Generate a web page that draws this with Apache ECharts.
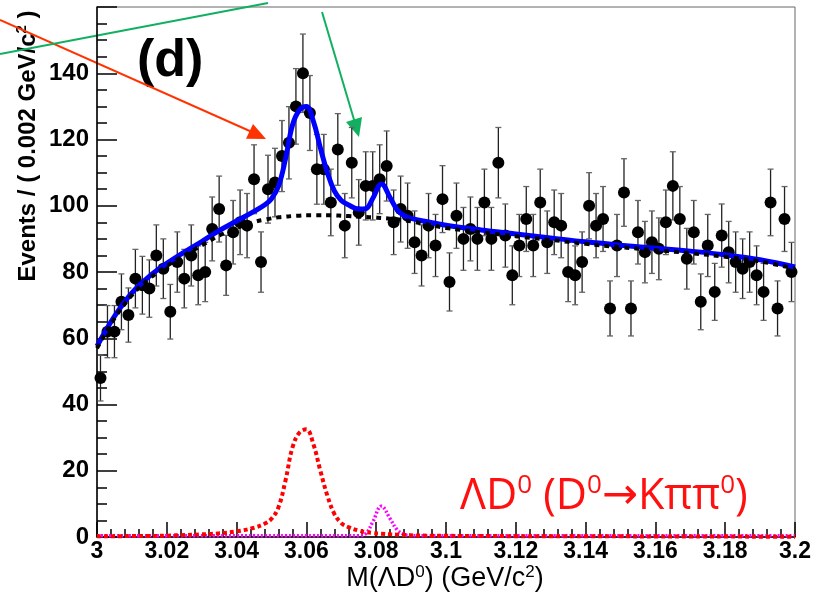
<!DOCTYPE html>
<html>
<head>
<meta charset="utf-8">
<script src="https://cdn.jsdelivr.net/npm/echarts@6/dist/echarts.min.js"></script>
<style>
  html, body { margin: 0; padding: 0; background: #fff; }
  #chart { width: 823px; height: 593px; }
</style>
</head>
<body>
<div id="chart"></div>
<script>
// histogram binning (GeV/c^2)
const binLow = 3.0;
const binWidth = 0.002;

// events per bin
const counts = [
  48, 62, 62, 71, 67, 78, 76, 75, 85, 81,
  68, 83, 78, 85, 79, 80, 93, 99, 82, 92,
  95, 94, 108, 83, 105, 107, 115, 119, 130, 140,
  128, 111, 111, 101, 117, 94, 113, 98, 106, 106,
  108, 112, 95, 99, 97, 89, 85, 94, 88, 102,
  77, 97, 90, 93, 90, 101, 90, 113, 91, 79,
  88, 96, 88, 101, 89, 95, 94, 80, 79, 83,
  100, 94, 96, 69, 88, 104, 69, 92, 86, 89,
  87, 95, 106, 96, 84, 92, 71, 88, 74, 91,
  86, 83, 81, 83, 79, 74, 101, 69, 96, 80
];

// fit curves sampled at these masses
const curveX = [
  3.000, 3.005, 3.010, 3.015, 3.020, 3.025, 3.030, 3.035, 3.040, 3.045,
  3.048, 3.050, 3.052, 3.054, 3.056, 3.058, 3.060, 3.062, 3.064, 3.066,
  3.068, 3.070, 3.072, 3.075, 3.077, 3.079, 3.0815, 3.084, 3.086, 3.088,
  3.090, 3.095, 3.100, 3.110, 3.120, 3.130, 3.140, 3.150, 3.160, 3.170,
  3.180, 3.190, 3.200
];
const totalFit = [
  57.6, 66.6, 73.7, 78.7, 82.6, 86.0, 89.2, 92.5, 95.4, 98.3,
  100.2, 102.1, 105.9, 114.1, 124.3, 128.9, 130.0, 125.5, 117.5, 110.0,
  104.5, 101.6, 100.3, 99.0, 99.1, 102.2, 106.6, 102.4, 98.8, 97.0,
  96.2, 95.1, 94.1, 92.7, 91.5, 90.3, 89.1, 88.1, 87.2, 86.3,
  85.2, 83.7, 81.5
];
const background = [
  57.0, 66.0, 73.0, 78.0, 81.8, 85.0, 88.0, 91.0, 93.3, 95.1,
  95.8, 96.2, 96.5, 96.7, 96.9, 97.0, 97.1, 97.1, 97.1, 97.1,
  97.1, 97.0, 96.9, 96.7, 96.6, 96.5, 96.3, 96.1, 95.9, 95.6,
  95.3, 94.3, 93.3, 92.0, 90.8, 89.7, 88.5, 87.5, 86.6, 85.7,
  84.6, 83.2, 81.0
];
const signalA = [
  0.2, 0.2, 0.3, 0.3, 0.4, 0.6, 0.8, 1.1, 1.7, 2.8,
  4.0, 5.5, 9.0, 17.0, 27.0, 31.5, 32.5, 28.0, 20.0, 12.5,
  7.0, 4.2, 3.0, 1.9, 1.5, 1.2, 1.0, 0.8, 0.7, 0.6,
  0.5, 0.4, 0.35, 0.3, 0.25, 0.2, 0.2, 0.2, 0.15, 0.15,
  0.15, 0.1, 0.1
];
const signalB = [
  0.4, 0.4, 0.4, 0.4, 0.4, 0.4, 0.4, 0.4, 0.4, 0.4,
  0.4, 0.4, 0.4, 0.4, 0.4, 0.4, 0.4, 0.4, 0.4, 0.4,
  0.4, 0.4, 0.4, 0.4, 1.0, 4.5, 9.3, 5.5, 2.2, 0.8,
  0.4, 0.4, 0.4, 0.4, 0.4, 0.4, 0.4, 0.4, 0.4, 0.4,
  0.4, 0.4, 0.4
];

const labelFont = "'Liberation Sans', Arial, sans-serif";
const redFont = "'Open Sans', 'Noto Sans', sans-serif";

const points = counts.map((c, i) => [binLow + binWidth * (i + 0.5), c, Math.sqrt(c)]);
const pairs = (ys) => curveX.map((x, i) => [x, ys[i]]);

const chart = echarts.init(document.getElementById("chart"));

const option = {
  animation: false,
  backgroundColor: "#fff",
  grid: {
    left: 97,
    right: 28,
    top: 7,
    bottom: 56,
    show: true,
    borderColor: "#666",
    borderWidth: 1,
  },
  xAxis: {
    type: "value",
    min: 3.0,
    max: 3.2,
    interval: 0.02,
    axisLine: { lineStyle: { color: "#000", width: 1.5 } },
    axisTick: { inside: true, length: 15, lineStyle: { color: "#000", width: 1.5 } },
    minorTick: { show: true, splitNumber: 5, length: 8, lineStyle: { color: "#000", width: 1.5 } },
    splitLine: { show: false },
    axisLabel: {
      color: "#000",
      fontSize: 23,
      fontWeight: "bold",
      fontFamily: labelFont,
      margin: 3,
      formatter: (v) => String(+v.toFixed(2)),
    },
  },
  yAxis: {
    type: "value",
    min: 0,
    max: 160,
    interval: 20,
    axisLine: { show: true, lineStyle: { color: "#000", width: 1.5 } },
    axisTick: { show: true, inside: true, length: 20, lineStyle: { color: "#000", width: 1.5 } },
    minorTick: { show: true, splitNumber: 4, length: 10, lineStyle: { color: "#000", width: 1.5 } },
    splitLine: { show: false },
    axisLabel: {
      color: "#000",
      fontSize: 24,
      fontWeight: "bold",
      fontFamily: labelFont,
      margin: 8,
      formatter: (v) => (v === 160 ? "" : String(v)),
    },
  },
  series: [
    {
      type: "custom",
      z: 2,
      data: points,
      encode: { x: 0, y: 1 },
      renderItem: function (params, api) {
        const x = api.value(0);
        const y = api.value(1);
        const e = api.value(2);
        const top = api.coord([x, y + e]);
        const bot = api.coord([x, y - e]);
        const cap = 3;
        return {
          type: "group",
          children: [
            { type: "line", shape: { x1: top[0], y1: top[1], x2: bot[0], y2: bot[1] }, style: { stroke: "#222", lineWidth: 1.3 } },
            { type: "line", shape: { x1: top[0] - cap, y1: top[1], x2: top[0] + cap, y2: top[1] }, style: { stroke: "#666", lineWidth: 1.3 } },
            { type: "line", shape: { x1: bot[0] - cap, y1: bot[1], x2: bot[0] + cap, y2: bot[1] }, style: { stroke: "#666", lineWidth: 1.3 } },
          ],
        };
      },
    },
    {
      type: "scatter",
      z: 3,
      data: points.map((p) => [p[0], p[1]]),
      symbol: "circle",
      symbolSize: 12,
      itemStyle: { color: "#000", opacity: 1 },
    },
    {
      type: "line",
      z: 4,
      data: pairs(signalB),
      smooth: 0.4,
      showSymbol: false,
      lineStyle: { color: "#ff00ff", width: 3.5, type: [2, 2] },
    },
    {
      type: "line",
      z: 4,
      data: pairs(signalA),
      smooth: 0.4,
      showSymbol: false,
      lineStyle: { color: "#ff0000", width: 4, type: [4, 3] },
    },
    {
      type: "line",
      z: 5,
      data: pairs(totalFit),
      smooth: 0.4,
      showSymbol: false,
      lineStyle: { color: "#0000ff", width: 5 },
    },
    {
      type: "line",
      z: 6,
      data: pairs(background),
      smooth: 0.4,
      showSymbol: false,
      lineStyle: { color: "#000", width: 4, type: [5, 5] },
    },
  ],
  graphic: [
    {
      type: "text",
      left: 137,
      top: 36,
      style: { text: "(d)", fontSize: 52, fontWeight: "bold", fontFamily: labelFont, fill: "#000" },
    },
    {
      type: "text",
      x: 28,
      y: 146,
      rotation: Math.PI / 2,
      style: {
        text: "{a|Events / ( 0.002 GeV/c}{s|2}{a| )}",
        align: "center",
        verticalAlign: "middle",
        rich: {
          a: { fontSize: 24, fontFamily: labelFont, fill: "#000", fontWeight: "bold" },
          s: { fontSize: 15, fontFamily: labelFont, fill: "#000", fontWeight: "bold", padding: [0, 0, 12, 0] },
        },
      },
    },
    {
      type: "text",
      x: 445,
      y: 579,
      style: {
        text: "{a|M(ΛD}{s|0}{a|) (GeV/c}{s|2}{a|)}",
        align: "center",
        verticalAlign: "middle",
        rich: {
          a: { fontSize: 27, fontFamily: labelFont, fill: "#000" },
          s: { fontSize: 17, fontFamily: labelFont, fill: "#000", padding: [0, 0, 13, 0] },
        },
      },
    },
    {
      type: "text",
      x: 460,
      y: 497,
      style: {
        text: "{a|ΛD}{s|0}{a| (D}{s|0}{r|→}{a|Kππ}{s|0}{a|)}",
        align: "left",
        verticalAlign: "middle",
        rich: {
          a: { fontSize: 43, fontFamily: redFont, fill: "#ff1010" },
          r: { fontSize: 43, fontFamily: "'DejaVu Sans', sans-serif", fill: "#ff1010" },
          s: { fontSize: 26, fontFamily: redFont, fill: "#ff1010", padding: [0, 0, 22, 0] },
        },
      },
    },
    // arrows pointing at the two peaks
    { type: "line", shape: { x1: 0, y1: 20, x2: 252, y2: 132 }, style: { stroke: "#ff3300", lineWidth: 2 } },
    { type: "polygon", shape: { points: [[266, 139], [246, 138.7], [253, 124]] }, style: { fill: "#ff3300" } },
    { type: "line", shape: { x1: 0, y1: 54, x2: 268, y2: 3 }, style: { stroke: "#10b060", lineWidth: 2 } },
    { type: "line", shape: { x1: 322, y1: 12, x2: 355, y2: 123 }, style: { stroke: "#10b060", lineWidth: 2 } },
    { type: "polygon", shape: { points: [[359, 137], [346, 122], [362, 117]] }, style: { fill: "#10b060" } },
  ],
};

chart.setOption(option);
</script>
</body>
</html>
